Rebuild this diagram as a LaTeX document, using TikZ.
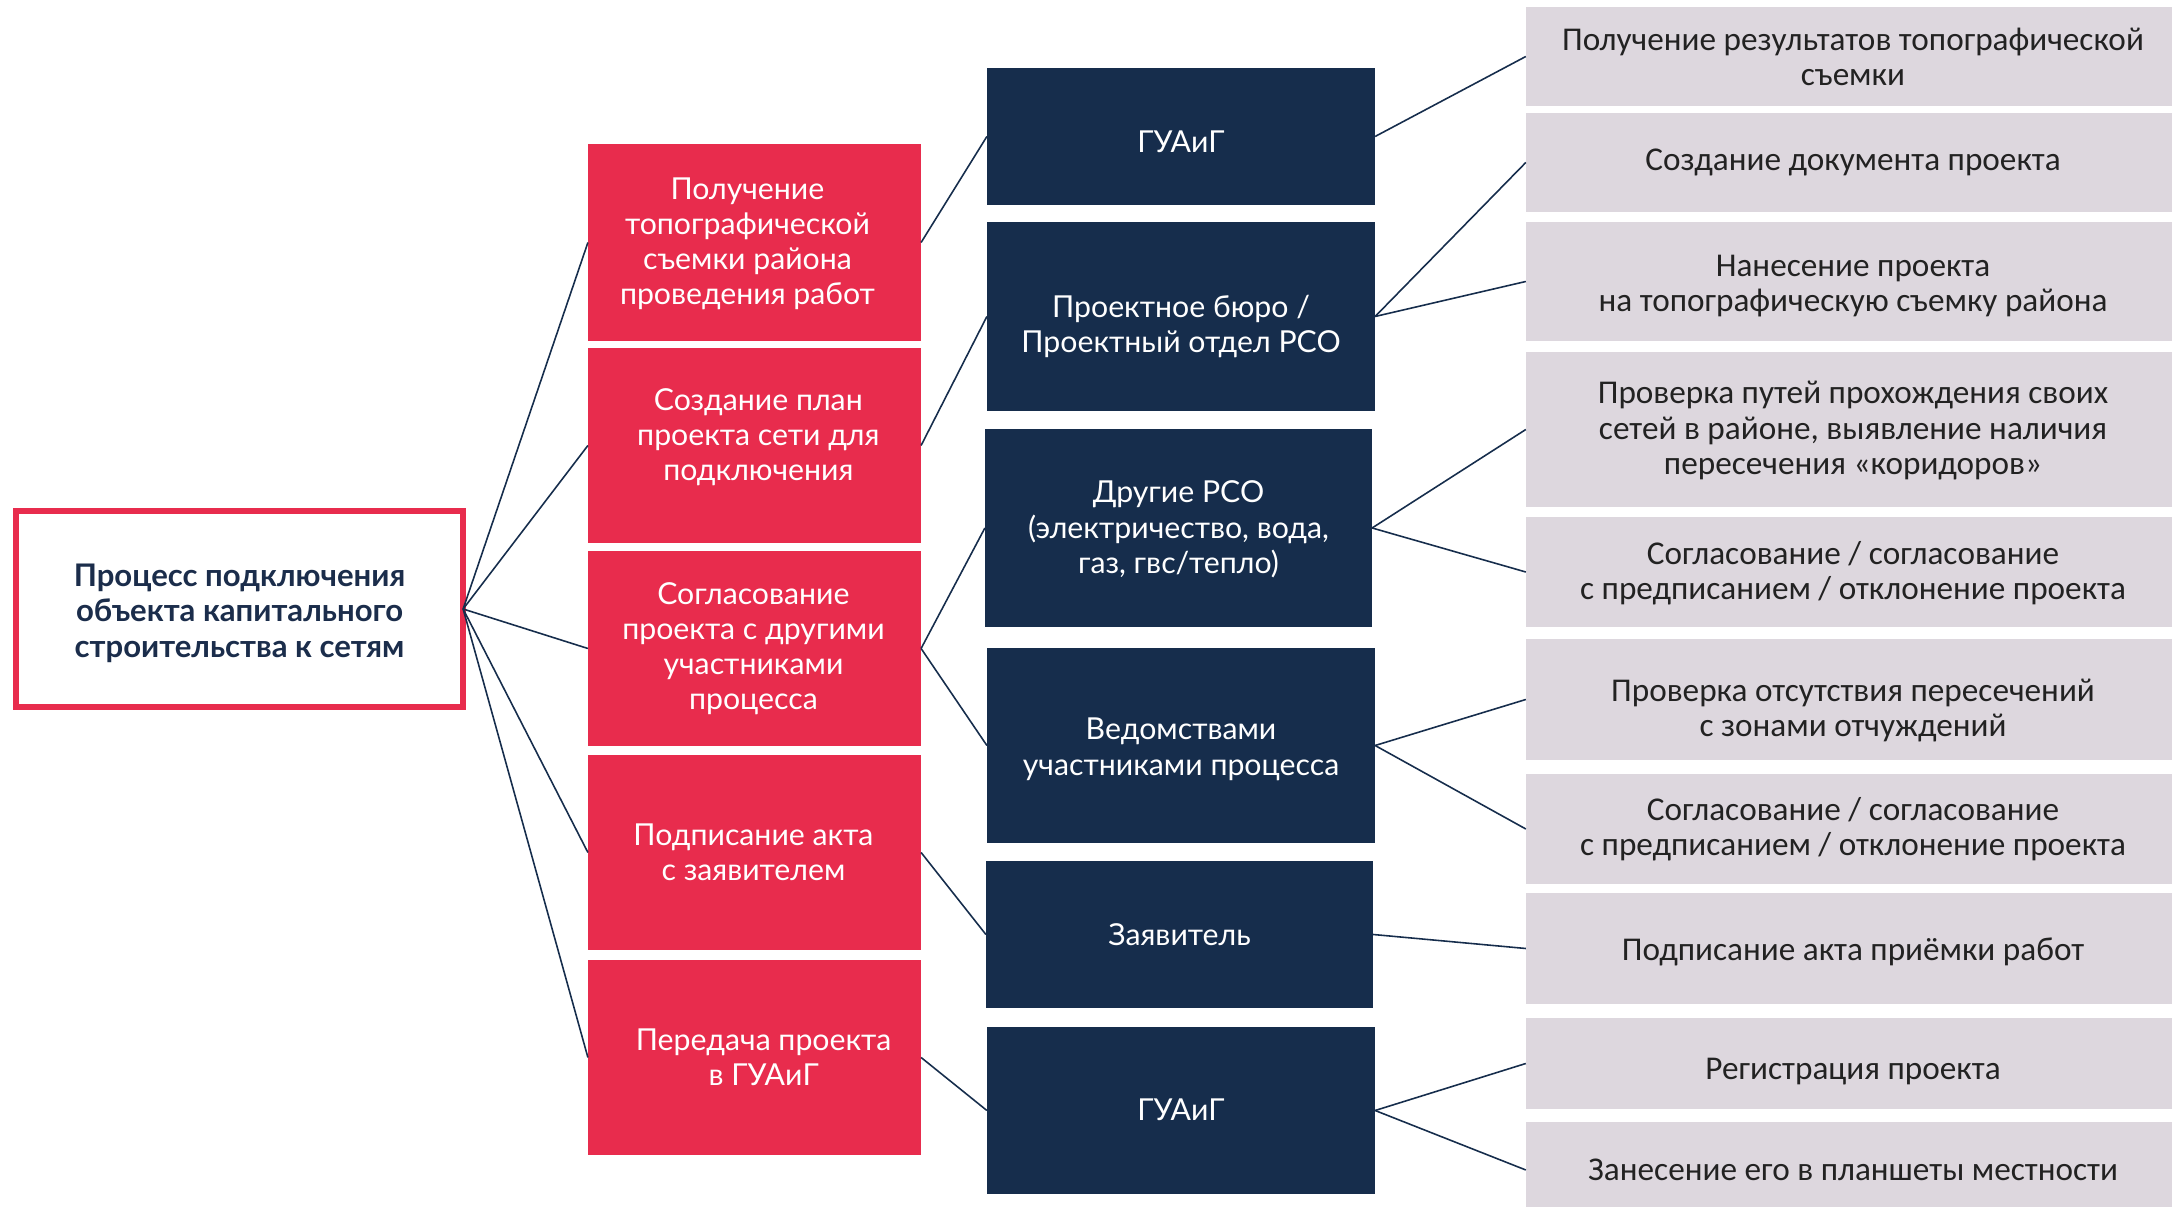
\documentclass[tikz,border=0pt]{standalone}
\usepackage{fontspec}
\setmainfont{Lato}
\newfontfamily\greyfont{Carlito}
\definecolor{cred}{HTML}{E82C4D}
\definecolor{cnavy}{HTML}{162D4C}
\definecolor{cgrey}{HTML}{DDD7DE}
\definecolor{ctext}{HTML}{1B2D4B}
\definecolor{cgtext}{HTML}{222222}
\tikzset{
  basebox/.style={rectangle, inner sep=0pt, outer sep=0pt},
  mainbox/.style={basebox, draw=cred, line width=1.7pt, fill=white},
  redbox/.style={basebox, fill=cred, minimum width=3.33cm},
  navybox/.style={basebox, fill=cnavy, minimum width=3.88cm},
  greybox/.style={basebox, fill=cgrey, minimum width=6.54cm},
  maintxt/.style={inner sep=0pt, align=center, text=ctext,
    font=\bfseries\fontsize{8.85}{10.1}\selectfont},
  whitetxt/.style={inner sep=0pt, align=center, text=white,
    font=\fontsize{8.6}{10}\selectfont},
  greytxt/.style={inner sep=0pt, align=center, text=cgtext,
    font=\greyfont\fontsize{9.45}{10}\selectfont},
  conn/.style={draw=cnavy, line width=0.45pt}
}
\begin{document}
\begin{tikzpicture}[x=0.01cm, y=-0.01cm]
\useasboundingbox (0,0) rectangle (2172,1207);

% main box
\node[mainbox, minimum width=4.47cm, minimum height=1.96cm,
  label={[maintxt, yshift=-1.2pt]center:{Процесс подключения\\объекта капитального\\строительства к сетям}}] (L) at (239.5,609) {};

% red boxes
\node[redbox, minimum height=1.97cm,
  label={[whitetxt, xshift=-2pt, yshift=-0.4pt]center:{Получение\\топографической\\съемки района\\проведения работ}}] (R1) at (754.5,242.5) {};
\node[redbox, minimum height=1.95cm,
  label={[whitetxt, xshift=1.1pt, yshift=2.3pt]center:{Создание план\\проекта сети для\\подключения}}] (R2) at (754.5,445.5) {};
\node[redbox, minimum height=1.95cm,
  label={[whitetxt, xshift=-0.3pt]center:{Согласование\\проекта с другими\\участниками\\процесса}}] (R3) at (754.5,648.5) {};
\node[redbox, minimum height=1.95cm,
  label={[whitetxt, xshift=-0.3pt]center:{Подписание акта\\с заявителем}}] (R4) at (754.5,852.5) {};
\node[redbox, minimum height=1.95cm,
  label={[whitetxt, xshift=2.6pt]center:{Передача проекта\\в ГУАиГ}}] (R5) at (754.5,1057.5) {};

% navy boxes
\node[navybox, minimum height=1.37cm,
  label={[whitetxt, yshift=-1.4pt]center:{ГУАиГ}}] (D1) at (1181,136.5) {};
\node[navybox, minimum height=1.89cm,
  label={[whitetxt, yshift=-2.8pt]center:{Проектное бюро /\\Проектный отдел РСО}}] (D2) at (1181,316.5) {};
\node[navybox, minimum width=3.87cm, minimum height=1.98cm,
  label={[whitetxt, yshift=-0.4pt]center:{Другие РСО\\(электричество, вода,\\газ, гвс/тепло)}}] (D3) at (1178.5,528) {};
\node[navybox, minimum height=1.95cm,
  label={[whitetxt, yshift=-1.1pt]center:{Ведомствами\\участниками процесса}}] (D4) at (1181,745.5) {};
\node[navybox, minimum width=3.87cm, minimum height=1.47cm,
  label={[whitetxt]center:{Заявитель}}] (D5) at (1179.5,934.5) {};
\node[navybox, minimum height=1.67cm,
  label={[whitetxt, yshift=0.3pt]center:{ГУАиГ}}] (D6) at (1181,1110.5) {};

% grey boxes
\node[greybox, minimum height=0.99cm,
  label={[greytxt]center:{Получение результатов топографической\\съемки}}] (G1) at (1853,56.5) {};
\node[greybox, minimum height=0.99cm,
  label={[greytxt]center:{Создание документа проекта}}] (G2) at (1853,162.5) {};
\node[greybox, minimum height=1.19cm,
  label={[greytxt, yshift=-1.2pt]center:{Нанесение проекта\\на топографическую съемку района}}] (G3) at (1853,281.5) {};
\node[greybox, minimum height=1.55cm,
  label={[greytxt, yshift=-0.3pt]center:{Проверка путей прохождения своих\\сетей в районе, выявление наличия\\пересечения «коридоров»}}] (G4) at (1853,429.5) {};
\node[greybox, minimum height=1.10cm,
  label={[greytxt, yshift=-0.3pt]center:{Согласование / согласование\\с предписанием / отклонение проекта}}] (G5) at (1853,572) {};
\node[greybox, minimum height=1.21cm,
  label={[greytxt, yshift=-3.1pt]center:{Проверка отсутствия пересечений\\с зонами отчуждений}}] (G6) at (1853,699.5) {};
\node[greybox, minimum height=1.10cm,
  label={[greytxt]center:{Согласование / согласование\\с предписанием / отклонение проекта}}] (G7) at (1853,829) {};
\node[greybox, minimum height=1.11cm,
  label={[greytxt, yshift=-1pt]center:{Подписание акта приёмки работ}}] (G8) at (1853,948.5) {};
\node[greybox, minimum height=0.91cm,
  label={[greytxt, yshift=-2.2pt]center:{Регистрация проекта}}] (G9) at (1853,1063.5) {};
\node[greybox, minimum height=0.96cm,
  label={[greytxt]center:{Занесение его в планшеты местности}}] (G10) at (1853,1170) {};

% connectors
\foreach \r in {R1,R2,R3,R4,R5} \draw[conn] (L.east) -- (\r.west);
\draw[conn] (R1.east) -- (D1.west);
\draw[conn] (R2.east) -- (D2.west);
\draw[conn] (R3.east) -- (D3.west);
\draw[conn] (R3.east) -- (D4.west);
\draw[conn] (R4.east) -- (D5.west);
\draw[conn] (R5.east) -- (D6.west);
\draw[conn] (D1.east) -- (G1.west);
\draw[conn] (D2.east) -- (G2.west);
\draw[conn] (D2.east) -- (G3.west);
\draw[conn] (D3.east) -- (G4.west);
\draw[conn] (D3.east) -- (G5.west);
\draw[conn] (D4.east) -- (G6.west);
\draw[conn] (D4.east) -- (G7.west);
\draw[conn] (D5.east) -- (G8.west);
\draw[conn] (D6.east) -- (G9.west);
\draw[conn] (D6.east) -- (G10.west);
\end{tikzpicture}
\end{document}
